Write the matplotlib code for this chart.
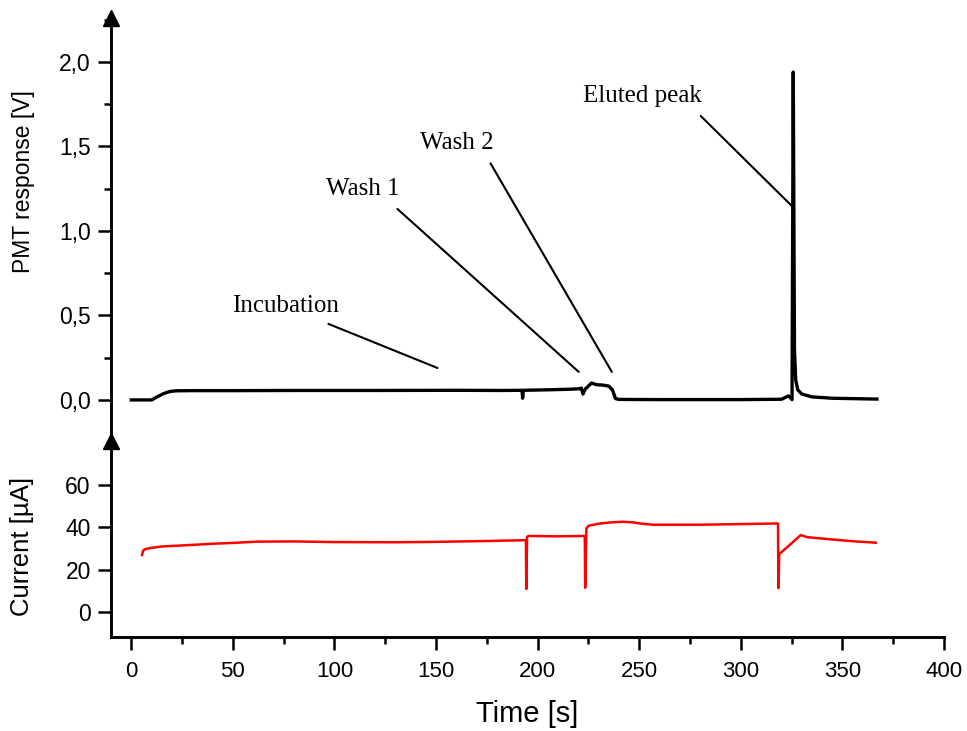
import matplotlib
matplotlib.use("Agg")
import matplotlib.pyplot as plt
from matplotlib.ticker import MultipleLocator, FuncFormatter

# PMT response (top panel)
pmt_t = [0, 10, 13, 16, 19, 22, 30, 50, 80, 120, 160, 182, 192.3, 192.6, 192.9,
         205, 215, 220.5, 221.5, 222.3, 223.5, 226.5, 229, 232, 235, 236.8,
         238.3, 240, 260, 300, 320, 323.5, 325.2, 325.8, 326.4, 327, 328, 330,
         335, 345, 367]
pmt_v = [0.0, 0.0, 0.02, 0.038, 0.05, 0.054, 0.055, 0.055, 0.056, 0.056, 0.057,
         0.056, 0.057, 0.01, 0.057, 0.06, 0.063, 0.066, 0.07, 0.035, 0.065, 0.10,
         0.09, 0.088, 0.082, 0.06, 0.008, 0.003, 0.002, 0.002, 0.004, 0.024,
         0.002, 1.94, 0.3, 0.12, 0.06, 0.035, 0.018, 0.01, 0.005]

# electrophoresis current (bottom panel)
cur_t = [5.3, 5.8, 7, 9.5, 15, 25, 40, 50, 62, 80, 100, 130, 150, 175, 194.2,
         194.4, 194.8, 195.4, 210, 223.2, 223.4, 224.0, 225, 230, 236, 242, 247,
         252, 257, 280, 300, 318.3, 318.5, 318.9, 322, 329.5, 332.8, 344, 355,
         366.5]
cur_v = [27, 29, 29.8, 30.3, 31, 31.5, 32.3, 32.7, 33.3, 33.4, 33.1, 33.0, 33.2,
         33.6, 34, 10.9, 35.5, 36, 35.8, 36, 11.5, 39.6, 40.8, 41.8, 42.4, 42.7,
         42.4, 41.7, 41.3, 41.3, 41.6, 41.9, 11.3, 27.4, 30, 36.4, 35.4, 34.4,
         33.5, 32.8]

# annotations: label, text position, line start, line end (data coords)
ann_labels = ["Incubation", "Wash 1", "Wash 2", "Eluted peak"]
ann_text_xy = [(75.9, 0.556), (113.8, 1.25), (160.1, 1.52), (251.7, 1.80)]
ann_line_start = [(97.0, 0.45), (131.0, 1.13), (176.8, 1.40), (280.3, 1.68)]
ann_line_end = [(150.7, 0.189), (220.2, 0.166), (236.5, 0.166), (326.1, 1.136)]

plt.rcParams['font.family'] = ['Liberation Sans', 'DejaVu Sans']

W, H = 967, 731
fig = plt.figure(figsize=(W / 100, H / 100), dpi=100)
left, right = 111 / W, 944 / W
ax1 = fig.add_axes([left, 1 - 441 / H, right - left, (441 - 18) / H])
ax2 = fig.add_axes([left, 1 - 637 / H, right - left, (637 - 441) / H], sharex=ax1)

ax1.plot(pmt_t, pmt_v, color='black', lw=2.4, solid_joinstyle='round')
ax2.plot(cur_t, cur_v, color='red', lw=1.8)

ax1.set_xlim(-10, 400)
ax1.set_ylim(-0.243, 2.26)
ax2.set_ylim(-11.8, 80.9)

comma = FuncFormatter(lambda v, p: f"{v:.1f}".replace('.', ','))
ax1.yaxis.set_major_locator(MultipleLocator(0.5))
ax1.yaxis.set_minor_locator(MultipleLocator(0.25))
ax1.yaxis.set_major_formatter(comma)
ax2.set_yticks([0, 20, 40, 60])
ax2.xaxis.set_major_locator(MultipleLocator(50))
ax2.xaxis.set_minor_locator(MultipleLocator(25))

for ax in (ax1, ax2):
    ax.spines['top'].set_visible(False)
    ax.spines['right'].set_visible(False)
    ax.spines['left'].set_linewidth(2.1)
    ax.spines['bottom'].set_linewidth(2.1)
    ax.tick_params(which='major', direction='out', length=9.5, width=1.8)
    ax.tick_params(which='minor', direction='out', length=5, width=1.8)
    ax.tick_params(axis='y', labelsize=16.5, pad=5)
    ax.tick_params(axis='x', labelsize=16, pad=7.5)
    # arrow head on the y axis
    ax.plot([0], [1], marker='^', markersize=11, color='black',
            transform=ax.transAxes, clip_on=False)

ax1.spines['bottom'].set_visible(False)
ax1.tick_params(axis='x', which='both', bottom=False, labelbottom=False)

fig.text(24 / W, 1 - 182 / H, "PMT response [V]", rotation=90,
         ha='center', va='center', fontsize=16.5)
fig.text(22 / W, 1 - 546 / H, "Current [\u00b5A]", rotation=90,
         ha='center', va='center', fontsize=18.5)
fig.text(527 / W, 1 - 714 / H, "Time [s]", ha='center', va='center', fontsize=21)

for lab, txy, s, e in zip(ann_labels, ann_text_xy, ann_line_start, ann_line_end):
    ax1.text(txy[0], txy[1], lab, ha='center', va='center', fontsize=18,
             family=['Liberation Serif'])
    ax1.annotate('', xy=e, xytext=s,
                 arrowprops=dict(arrowstyle='-', color='black', lw=1.5,
                                 shrinkA=0, shrinkB=0))

fig.savefig("out.png", dpi=100)
